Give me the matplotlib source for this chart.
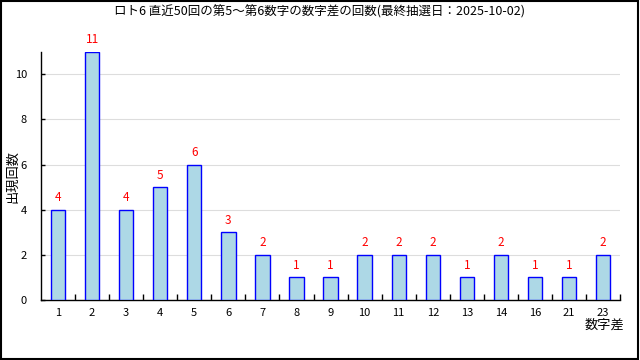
import numpy as np
import matplotlib
matplotlib.use('Agg')
import matplotlib.pyplot as plt
from matplotlib.patches import Rectangle

plt.rcParams['font.family'] = ['Noto Sans CJK JP', 'DejaVu Sans']

# data
diffs = ['1', '2', '3', '4', '5', '6', '7', '8', '9', '10', '11', '12', '13', '14', '16', '21', '23']
counts = [4, 11, 4, 5, 6, 3, 2, 1, 1, 2, 2, 2, 1, 2, 1, 1, 2]
title = 'ロト6 直近50回の第5～第6数字の数字差の回数(最終抽選日：2025-10-02)'

fig = plt.figure(figsize=(6.4, 3.6), dpi=100)
ax = fig.add_axes([0.064, 0.167, 0.905, 0.689])

x = np.arange(len(diffs))
ax.bar(x, counts, width=0.42, color='#add8e6', edgecolor='blue', linewidth=1.0, zorder=3)
for xi, c in zip(x, counts):
    ax.annotate(str(c), (xi, c), xytext=(0, 4), textcoords='offset points',
                ha='center', va='bottom', color='red', fontsize=8.5)

ax.set_xlim(-0.5, len(diffs) - 0.5)
ax.set_ylim(0, 11)
ax.set_yticks(range(0, 11, 2))
ax.yaxis.grid(True, color='#dddddd', linewidth=0.8, zorder=0)
ax.tick_params(axis='y', direction='in', length=3, width=1, labelsize=8, pad=10)

ax.set_xticks(x)
ax.set_xticklabels(diffs)
ax.tick_params(axis='x', which='major', length=0, labelsize=8, pad=6)
ax.set_xticks(np.arange(0.5, len(diffs) - 0.4, 1.0), minor=True)
ax.tick_params(axis='x', which='minor', direction='in', length=4, width=1)

for s in ['top', 'right']:
    ax.spines[s].set_visible(False)
for s in ['left', 'bottom']:
    ax.spines[s].set_linewidth(1.0)

fig.text(13 / 640, 0.51, '出現回数', rotation=90, ha='center', va='center', fontsize=9.5)
fig.text(0.945, 0.097, '数字差', ha='center', va='center', fontsize=9.5)
fig.text(0.5, 0.967, title, ha='center', va='center', fontsize=9)

# outer frame
fig.patches.append(Rectangle((0.001, 0.002), 0.996, 0.996, transform=fig.transFigure,
                             fill=False, edgecolor='black', linewidth=1.5))

fig.savefig('out.png', dpi=100)
